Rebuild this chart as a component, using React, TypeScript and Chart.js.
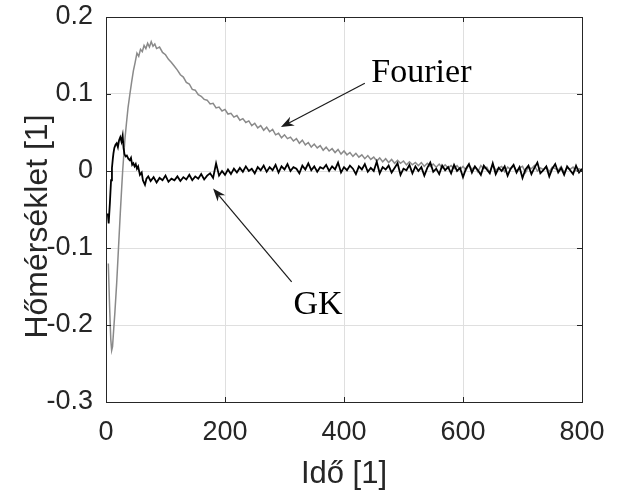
import React, { useEffect, useRef } from 'react';
import { Chart, registerables } from 'chart.js';

Chart.register(...registerables);

// ---- axis ticks & titles ----
const xTicks = [0, 200, 400, 600, 800];
const yTicks = [-0.3, -0.2, -0.1, 0, 0.1, 0.2];
const xTitle = 'Idő [1]';
const yTitle = 'Hőmérséklet [1]';

// ---- GK series (black) ----
const gkEarlyX = [3, 4.5, 6.5, 8.5, 10, 11.5, 12.5, 14, 16, 18, 20, 22, 24, 26, 28, 29.5, 31, 33, 35, 37.5, 40, 42, 44, 46, 48, 50, 52, 54, 57, 60, 62, 65.5, 68, 71];
const gkEarlyY = [-0.055, -0.068, -0.042, -0.012, 0.004, 0.016, 0.023, 0.030, 0.034, 0.036, 0.031, 0.040, 0.044, 0.038, 0.046, 0.030, 0.022, 0.019, 0.020, 0.016, 0.014, 0.017, 0.008, 0.010, 0.006, 0.009, 0.003, 0.006, -0.005, -0.002, -0.012, -0.018, -0.010, -0.007];
// sampled every 5 units from 75 to 800
const gkLateY = [
  -0.013, -0.008, -0.015, -0.009, -0.012, -0.006, -0.014, -0.010, -0.012, -0.007, -0.013, -0.008, -0.011, -0.005, -0.012, -0.007, -0.010, -0.004, -0.011, -0.006,
  -0.003, -0.009, 0.010, -0.006, 0.000, -0.005, 0.002, -0.004, 0.003, -0.002, 0.004, -0.001, 0.006, 0.000, 0.003, -0.003, 0.005, 0.001, 0.007, -0.001,
  0.005, 0.001, 0.008, -0.002, 0.006, 0.002, 0.009, 0.000, 0.005, 0.003, -0.003, 0.007, 0.002, 0.010, 0.001, 0.006, -0.001, 0.005, 0.003, 0.008,
  0.000, 0.006, 0.002, 0.011, -0.002, 0.005, 0.001, 0.007, 0.003, -0.004, 0.006, 0.002, 0.009, -0.001, 0.004, 0.000, 0.012, -0.003, 0.005, 0.002,
  0.007, -0.002, 0.004, 0.010, -0.005, 0.003, 0.001, 0.008, -0.003, 0.006, 0.000, 0.005, -0.006, 0.004, 0.011, -0.001, 0.003, -0.004, 0.007, 0.001,
  0.005, -0.003, 0.008, 0.000, 0.004, -0.008, 0.003, 0.009, -0.002, 0.006, 0.001, -0.005, 0.007, 0.002, -0.003, 0.010, -0.004, 0.004, 0.000, 0.006,
  -0.006, 0.003, 0.008, -0.002, 0.005, -0.009, 0.002, 0.007, -0.004, 0.004, 0.011, -0.003, 0.001, 0.006, -0.007, 0.003, 0.009, -0.002, 0.004, -0.005,
  0.006, 0.001, -0.004, 0.007, -0.002, 0.003,
];
const gkLateStart = 75;

// ---- Fourier series (grey) ----
const fourierEarlyX = [3.9, 6, 8, 9.5, 11, 13, 15, 18, 21, 24, 26.5, 28, 30, 32, 34.5, 37, 40, 43, 46, 49, 52, 55, 58, 61, 64, 67, 70, 73, 76, 79, 82, 85];
const fourierEarlyY = [-0.12, -0.175, -0.218, -0.233, -0.228, -0.205, -0.183, -0.145, -0.1, -0.055, -0.02, 0.0, 0.022, 0.043, 0.063, 0.082, 0.099, 0.115, 0.13, 0.141, 0.153, 0.149, 0.158, 0.155, 0.163, 0.159, 0.166, 0.161, 0.168, 0.162, 0.165, 0.159];
// sampled every 5 units from 90 to 800
const fourierLateY = [
  0.161, 0.154, 0.151, 0.145, 0.141, 0.136, 0.131, 0.125, 0.122, 0.115, 0.113, 0.106, 0.105, 0.099, 0.097, 0.093, 0.092, 0.087, 0.088, 0.082,
  0.083, 0.078, 0.080, 0.074, 0.075, 0.070, 0.072, 0.066, 0.068, 0.063, 0.065, 0.059, 0.062, 0.056, 0.059, 0.053, 0.057, 0.051, 0.054, 0.047,
  0.049, 0.043, 0.047, 0.042, 0.044, 0.039, 0.042, 0.036, 0.040, 0.034, 0.037, 0.031, 0.035, 0.030, 0.033, 0.027, 0.031, 0.026, 0.029, 0.024,
  0.028, 0.022, 0.026, 0.021, 0.024, 0.019, 0.023, 0.018, 0.021, 0.016, 0.020, 0.015, 0.018, 0.013, 0.017, 0.012, 0.016, 0.011, 0.015, 0.010,
  0.014, 0.010, 0.013, 0.008, 0.012, 0.008, 0.011, 0.007, 0.011, 0.006, 0.010, 0.006, 0.009, 0.005, 0.009, 0.004, 0.008, 0.004, 0.007, 0.003,
  0.007, 0.002, 0.006,
  0.001, 0.008, 0.002, 0.006, -0.001, 0.007, 0.003, 0.005, -0.002, 0.008, 0.001, 0.004, 0.006, -0.001, 0.005, 0.002, 0.007, 0.000, 0.004, 0.006,
  -0.002, 0.005, 0.003, 0.007, 0.000, 0.004, 0.002, 0.006, -0.001, 0.005, 0.003, 0.001, 0.006, -0.002, 0.004, 0.002, 0.005, 0.000, 0.003, 0.001,
];
const fourierLateStart = 90;
const sampleStep = 5;

// ---- annotations (data coordinates) ----
const notes = [
  { label: 'Fourier', textX: 446, textY: 0.116, fromX: 435, fromY: 0.114, toX: 294, toY: 0.057 },
  { label: 'GK', textX: 315, textY: -0.1855, fromX: 312, fromY: -0.144, toX: 180, toY: -0.0226 },
];

function toPoints(earlyX: number[], earlyY: number[], lateStart: number, lateY: number[]) {
  const pts = earlyX.map((x, i) => ({ x, y: earlyY[i] }));
  lateY.forEach((y, i) => pts.push({ x: lateStart + i * sampleStep, y }));
  return pts;
}

const AXIS_COLOR = '#262626';

function drawArrow(ctx: CanvasRenderingContext2D, x1: number, y1: number, x2: number, y2: number) {
  const ang = Math.atan2(y2 - y1, x2 - x1);
  const c = Math.cos(ang), s = Math.sin(ang);
  const L = 13, W = 5, N = 4;
  ctx.beginPath();
  ctx.moveTo(x1, y1);
  ctx.lineTo(x2 - (L - N) * c, y2 - (L - N) * s);
  ctx.stroke();
  ctx.beginPath();
  ctx.moveTo(x2, y2);
  ctx.lineTo(x2 - L * c + W * s, y2 - L * s - W * c);
  ctx.lineTo(x2 - (L - N) * c, y2 - (L - N) * s);
  ctx.lineTo(x2 - L * c - W * s, y2 - L * s + W * c);
  ctx.closePath();
  ctx.fill();
}

const overlayPlugin = {
  id: 'overlay',
  afterDraw(chart: any) {
    const { ctx, chartArea: a, scales } = chart;
    const xs = scales.x, ys = scales.y;
    ctx.save();
    ctx.strokeStyle = AXIS_COLOR;
    ctx.lineWidth = 1;
    const tl = 5;
    ctx.beginPath();
    xTicks.forEach((v) => {
      const px = Math.round(xs.getPixelForValue(v)) + 0.5;
      ctx.moveTo(px, a.bottom); ctx.lineTo(px, a.bottom - tl);
      ctx.moveTo(px, a.top); ctx.lineTo(px, a.top + tl);
    });
    yTicks.forEach((v) => {
      const py = Math.round(ys.getPixelForValue(v)) + 0.5;
      ctx.moveTo(a.left, py); ctx.lineTo(a.left + tl, py);
      ctx.moveTo(a.right, py); ctx.lineTo(a.right - tl, py);
    });
    ctx.stroke();
    ctx.strokeRect(Math.round(a.left) + 0.5, Math.round(a.top) + 0.5, Math.round(a.width), Math.round(a.height));

    // annotations
    ctx.strokeStyle = '#1a1a1a';
    ctx.fillStyle = '#1a1a1a';
    ctx.lineWidth = 1.2;
    notes.forEach((n) => {
      drawArrow(ctx, xs.getPixelForValue(n.fromX), ys.getPixelForValue(n.fromY), xs.getPixelForValue(n.toX), ys.getPixelForValue(n.toY));
      ctx.font = '34px "Liberation Serif", serif';
      ctx.textAlign = 'left';
      ctx.textBaseline = 'alphabetic';
      ctx.fillStyle = '#000';
      ctx.fillText(n.label, xs.getPixelForValue(n.textX), ys.getPixelForValue(n.textY));
      ctx.fillStyle = '#1a1a1a';
    });

    // y-axis title
    ctx.save();
    ctx.fillStyle = AXIS_COLOR;
    ctx.font = '32px "Liberation Sans", Arial, sans-serif';
    ctx.textAlign = 'center';
    ctx.textBaseline = 'alphabetic';
    ctx.translate(47, (a.top + a.bottom) / 2 + 17);
    ctx.rotate(-Math.PI / 2);
    ctx.fillText(yTitle, 0, 0);
    ctx.restore();
    ctx.restore();
  },
};

export default function App() {
  const ref = useRef<HTMLCanvasElement | null>(null);
  useEffect(() => {
    if (!ref.current) return;
    const tickFont = { family: '"Liberation Sans", Arial, sans-serif', size: 27 };
    const chart = new Chart(ref.current, {
      type: 'line',
      data: {
        datasets: [
          {
            label: 'GK',
            data: toPoints(gkEarlyX, gkEarlyY, gkLateStart, gkLateY),
            borderColor: '#000000',
            borderWidth: 1.8,
            pointRadius: 0,
            tension: 0,
            fill: false,
          },
          {
            label: 'Fourier',
            data: toPoints(fourierEarlyX, fourierEarlyY, fourierLateStart, fourierLateY),
            borderColor: '#8a8a8a',
            borderWidth: 1.5,
            pointRadius: 0,
            tension: 0,
            fill: false,
          },
        ],
      },
      options: {
        responsive: false,
        animation: false,
        devicePixelRatio: 1,
        layout: { padding: { top: 17, right: 40, left: 0, bottom: 0 } },
        plugins: { legend: { display: false }, tooltip: { enabled: false } },
        scales: {
          x: {
            type: 'linear',
            min: 0,
            max: 800,
            afterFit: (s: any) => { s.height = 93; s.paddingLeft = 0; s.paddingRight = 0; },
            afterBuildTicks: (s: any) => { s.ticks = xTicks.map((v) => ({ value: v })); },
            grid: { color: '#dfdfdf', lineWidth: 1, drawTicks: false },
            border: { display: false },
            ticks: { font: tickFont, color: AXIS_COLOR, padding: 14, maxRotation: 0, callback: (v: any) => String(v) },
            title: { display: true, text: xTitle, color: AXIS_COLOR, font: { family: '"Liberation Sans", Arial, sans-serif', size: 31 }, padding: { top: 0, bottom: 2 } },
          },
          y: {
            type: 'linear',
            min: -0.3,
            max: 0.2,
            afterFit: (s: any) => { s.width = 106; s.paddingTop = 0; s.paddingBottom = 0; },
            afterBuildTicks: (s: any) => { s.ticks = yTicks.map((v) => ({ value: v })); },
            grid: { color: '#dfdfdf', lineWidth: 1, drawTicks: false },
            border: { display: false },
            ticks: { font: tickFont, color: AXIS_COLOR, padding: 13, callback: (v: any) => String(Math.round(v * 10) / 10) },
          },
        },
      },
      plugins: [overlayPlugin],
    });
    return () => chart.destroy();
  }, []);
  return (
    <div style={{ position: 'fixed', left: 0, top: 0, width: 622, height: 495, background: '#fff' }}>
      <canvas ref={ref} width={622} height={495} style={{ width: 622, height: 495, display: 'block' }} />
    </div>
  );
}
